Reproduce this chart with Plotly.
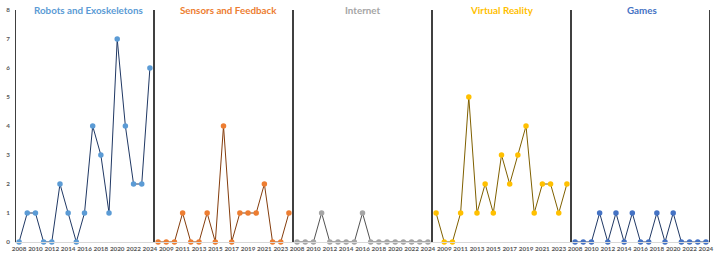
import plotly.graph_objects as go

years = list(range(2008, 2025))
categories = ["Robots and Exoskeletons", "Sensors and Feedback", "Internet", "Virtual Reality", "Games"]
robots = [0, 1, 1, 0, 0, 2, 1, 0, 1, 4, 3, 1, 7, 4, 2, 2, 6]
sensors = [0, 0, 0, 1, 0, 0, 1, 0, 4, 0, 1, 1, 1, 2, 0, 0, 1]
internet = [0, 0, 0, 1, 0, 0, 0, 0, 1, 0, 0, 0, 0, 0, 0, 0, 0]
vr = [1, 0, 0, 1, 5, 1, 2, 1, 3, 2, 3, 4, 1, 2, 2, 1, 2]
games = [0, 0, 0, 1, 0, 1, 0, 1, 0, 0, 1, 0, 1, 0, 0, 0, 0]
series = [robots, sensors, internet, vr, games]
marker_colors = ["#5B9BD5", "#ED7D31", "#A5A5A5", "#FFC000", "#4472C4"]
line_colors = ["#203864", "#843C0C", "#525252", "#7F6000", "#203864"]
title_shifts = [4, 5, 0, 0, 1]

n = len(years)
fig = go.Figure()
for k, (name, vals) in enumerate(zip(categories, series)):
    xs = [k * n + i for i in range(n)]
    fig.add_trace(go.Scatter(
        x=xs, y=vals, mode="lines+markers", name=name,
        line=dict(color=line_colors[k], width=1),
        marker=dict(color=marker_colors[k], size=5.5),
        cliponaxis=False, showlegend=False,
    ))
    fig.add_annotation(
        x=k * n + (n - 1) / 2, y=1.0, xref="x", yref="paper",
        text="<b>%s</b>" % name, showarrow=False, yanchor="middle",
        xshift=title_shifts[k],
        font=dict(family="Lato", size=9.8, color=marker_colors[k]),
    )

for k in range(len(categories) + 1):
    fig.add_shape(type="line", xref="x", yref="paper",
                  x0=k * n - 0.5, x1=k * n - 0.5, y0=0, y1=1,
                  line=dict(color="black", width=1.5))

total = n * len(categories)
tickvals = list(range(0, total, 2))
ticktext = [str(years[i % n]) for i in tickvals]

fig.update_layout(
    width=720, height=259,
    margin=dict(l=15, r=6, t=8, b=17),
    plot_bgcolor="white", paper_bgcolor="white",
    xaxis=dict(range=[-0.5, total - 0.5], tickvals=tickvals, ticktext=ticktext,
               tickangle=0, showgrid=False, zeroline=False, showline=True,
               linecolor="#D9D9D9", linewidth=1, ticks="",
               tickfont=dict(family="Lato", size=6.3, color="#595959", weight="bold")),
    yaxis=dict(range=[0, 8], dtick=1, showgrid=False, zeroline=False,
               showline=False, ticks="", ticklabelstandoff=4,
               tickfont=dict(family="Lato", size=6.3, color="#595959", weight="bold")),
)
fig.write_html("out.html")
